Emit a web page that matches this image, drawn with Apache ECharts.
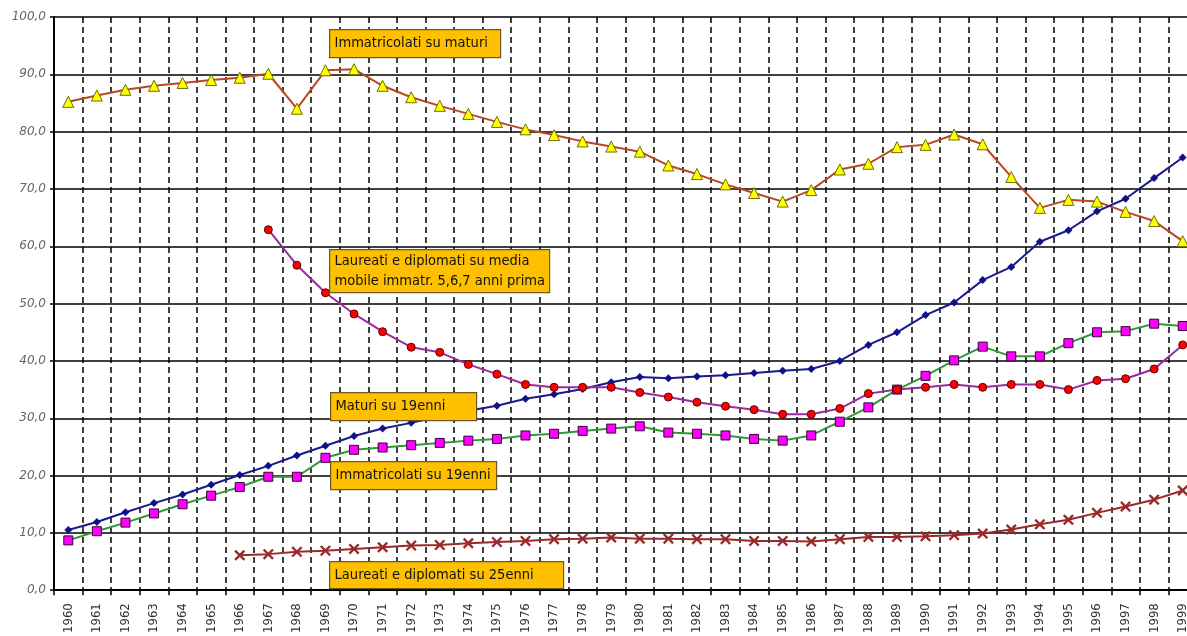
<!DOCTYPE html>
<html>
<head>
<meta charset="utf-8">
<script src="https://cdn.jsdelivr.net/npm/echarts@6/dist/echarts.min.js"></script>
<style>
html,body{margin:0;padding:0;background:#fff;overflow:hidden;width:1187px;height:636px;}
#chart{width:1197px;height:636px;}
</style>
</head>
<body>
<div id="chart"></div>
<script>
const years = [];
for (let y = 1960; y <= 1999; y++) years.push(String(y));

const yTicks = [0, 10, 20, 30, 40, 50, 60, 70, 80, 90, 100];

const immatricolatiSuMaturi = [85.2, 86.3, 87.3, 88.0, 88.5, 89.0, 89.4, 90.1, 84.0, 90.7, 90.9, 88.0,
  86.0, 84.5, 83.1, 81.7, 80.4, 79.4, 78.3, 77.4, 76.5, 74.1, 72.6, 70.8, 69.3, 67.8,
  69.8, 73.4, 74.4, 77.3, 77.7, 79.5, 77.8, 72.1, 66.7, 68.1, 67.8, 66.0, 64.4, 60.9];

const maturiSu19enni = [10.5, 11.9, 13.6, 15.2, 16.7, 18.4, 20.1, 21.7, 23.5, 25.2, 26.9, 28.2,
  29.2, 30.3, 31.3, 32.2, 33.4, 34.2, 35.1, 36.3, 37.2, 37.0, 37.3, 37.5, 37.9, 38.3,
  38.6, 40.0, 42.8, 45.0, 48.0, 50.2, 54.1, 56.4, 60.8, 62.8, 66.1, 68.3, 71.9, 75.5];

const immatricolatiSu19enni = [8.7, 10.3, 11.8, 13.4, 15.0, 16.5, 18.0, 19.8, 19.8, 23.1, 24.5, 24.9,
  25.3, 25.7, 26.1, 26.4, 27.0, 27.3, 27.8, 28.2, 28.6, 27.5, 27.3, 27.0, 26.4, 26.1,
  27.0, 29.4, 31.9, 35.0, 37.4, 40.1, 42.5, 40.8, 40.8, 43.1, 45.0, 45.2, 46.5, 46.1];

const laureatiSuMediaImmatr = [null, null, null, null, null, null, null, 62.9, 56.7, 51.9, 48.2, 45.1,
  42.4, 41.5, 39.4, 37.7, 35.9, 35.4, 35.4, 35.4, 34.5, 33.7, 32.8, 32.1, 31.5, 30.7,
  30.7, 31.7, 34.3, 35.0, 35.4, 35.9, 35.4, 35.9, 35.9, 35.0, 36.6, 36.9, 38.6, 42.8];

const laureatiSu25enni = [null, null, null, null, null, null, 6.1, 6.3, 6.7, 6.9, 7.2, 7.5,
  7.8, 7.9, 8.2, 8.4, 8.6, 8.9, 9.0, 9.2, 9.0, 9.0, 8.9, 8.9, 8.6, 8.6,
  8.5, 8.9, 9.3, 9.3, 9.4, 9.6, 9.9, 10.6, 11.5, 12.3, 13.5, 14.6, 15.8, 17.4];

const seriesNames = [
  'Immatricolati su maturi',
  'Maturi su 19enni',
  'Immatricolati su 19enni',
  'Laureati e diplomati su media\nmobile immatr. 5,6,7 anni prima',
  'Laureati e diplomati su 25enni'
];

const boxFont = '14.5px "DejaVu Sans Condensed", "DejaVu Sans", sans-serif';
function labelBox(text, x, y, w, h) {
  return {
    type: 'group', left: x, top: y, z: 100, zlevel: 1,
    children: [
      { type: 'rect', z: 100, zlevel: 1, shape: { x: 0, y: 0, width: w, height: h },
        style: { fill: '#ffc000', stroke: '#6b5a1e', lineWidth: 1.2 } },
      { type: 'text', z: 101, zlevel: 1, x: 5, y: h / 2,
        style: { text: text, font: boxFont, fill: '#111', verticalAlign: 'middle', lineHeight: 20 } }
    ]
  };
}

const X_SYMBOL = 'path://M0,1.5L1.5,0L5,3.5L8.5,0L10,1.5L6.5,5L10,8.5L8.5,10L5,6.5L1.5,10L0,8.5L3.5,5Z';

const chart = echarts.init(document.getElementById('chart'), null, { renderer: 'canvas' });
chart.setOption({
  animation: false,
  backgroundColor: '#ffffff',
  grid: { left: 54, right: 0, top: 17, bottom: 44, containLabel: false },
  xAxis: {
    type: 'category',
    data: years,
    boundaryGap: true,
    axisLine: { show: true, onZero: false, lineStyle: { color: '#000', width: 2 } },
    axisTick: { show: true, interval: 0, length: 5, lineStyle: { color: '#000', width: 1.5 } },
    axisLabel: {
      interval: 0, rotate: 90, margin: 13, color: '#333',
      fontFamily: '"DejaVu Sans Condensed", "DejaVu Sans", sans-serif', fontSize: 13
    },
    splitLine: { show: true, interval: 0, lineStyle: { color: '#000', width: 1.5, type: [6, 4] } }
  },
  yAxis: {
    type: 'value', min: yTicks[0], max: yTicks[yTicks.length - 1], interval: 10,
    axisLine: { show: true, lineStyle: { color: '#000', width: 2 } },
    axisTick: { show: true, length: 4, lineStyle: { color: '#000', width: 1.5 } },
    axisLabel: {
      margin: 8, color: '#666', fontStyle: 'italic',
      fontFamily: '"DejaVu Sans", sans-serif', fontSize: 12,
      formatter: v => v.toFixed(1).replace('.', ',')
    },
    splitLine: { show: true, lineStyle: { color: '#000', width: 1.5 } }
  },
  series: [
    { name: seriesNames[0], type: 'line', data: immatricolatiSuMaturi,
      symbol: 'triangle', symbolSize: 11,
      lineStyle: { color: '#b9471f', width: 2 },
      itemStyle: { color: '#ffff00', borderColor: '#6f6f00', borderWidth: 1 } },
    { name: seriesNames[1], type: 'line', data: maturiSu19enni,
      symbol: 'diamond', symbolSize: 8,
      lineStyle: { color: '#1a1a8c', width: 2 },
      itemStyle: { color: '#10108a', borderColor: '#10108a', borderWidth: 0 } },
    { name: seriesNames[2], type: 'line', data: immatricolatiSu19enni,
      symbol: 'rect', symbolSize: 9,
      lineStyle: { color: '#2e9a35', width: 2 },
      itemStyle: { color: '#ff00ff', borderColor: '#3a003a', borderWidth: 1 } },
    { name: seriesNames[3], type: 'line', data: laureatiSuMediaImmatr,
      symbol: 'circle', symbolSize: 8,
      lineStyle: { color: '#9a2aa0', width: 2 },
      itemStyle: { color: '#ff0000', borderColor: '#5a0000', borderWidth: 1 } },
    { name: seriesNames[4], type: 'line', data: laureatiSu25enni,
      symbol: X_SYMBOL, symbolSize: 11,
      lineStyle: { color: '#9a2a2a', width: 2 },
      itemStyle: { color: '#9a2a2a', borderWidth: 0 } }
  ],
  graphic: [
    labelBox(seriesNames[0], 329, 29, 171, 28),
    labelBox(seriesNames[3], 329, 249, 220, 43),
    labelBox(seriesNames[1], 330, 392, 146, 28),
    labelBox(seriesNames[2], 330, 461, 166, 28),
    labelBox(seriesNames[4], 329, 561, 234, 27)
  ]
});
</script>
</body>
</html>
